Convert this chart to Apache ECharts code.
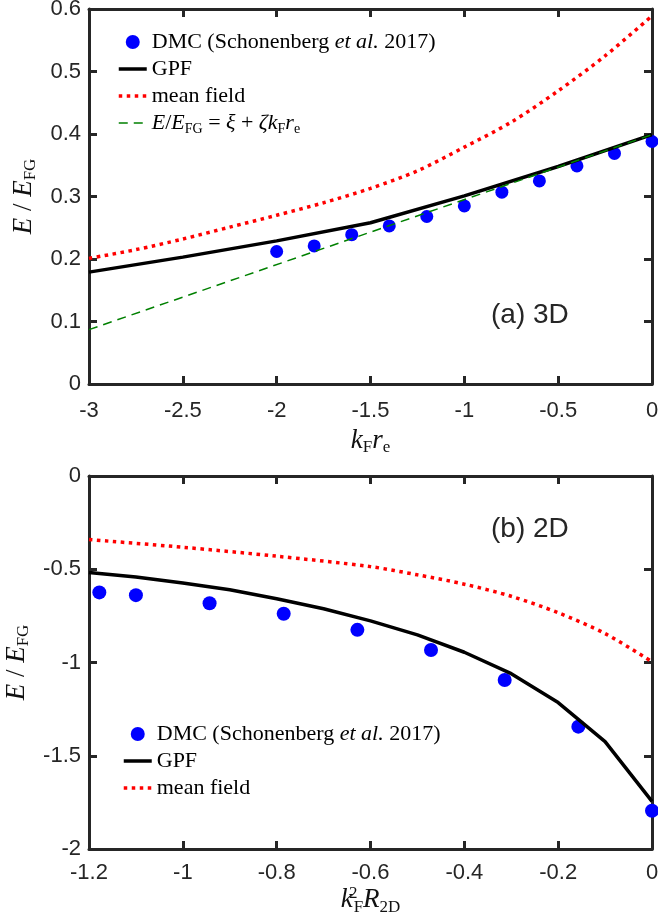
<!DOCTYPE html>
<html>
<head>
<meta charset="utf-8">
<script src="https://cdn.jsdelivr.net/npm/echarts@6/dist/echarts.min.js"></script>
<style>
  html, body { margin: 0; padding: 0; background: #fff; }
  #chart { width: 658px; height: 923px; }
</style>
</head>
<body>
<div id="chart"></div>
<script>
// panel (a) 3D
const dmcX3 = [-2, -1.8, -1.6, -1.4, -1.2, -1, -0.8, -0.6, -0.4, -0.2, 0];
const dmcY3 = [0.212, 0.221, 0.239, 0.253, 0.268, 0.285, 0.307, 0.325, 0.349, 0.369, 0.388];
const gpfX3 = [-3, -2.5, -2, -1.5, -1, -0.5, 0];
const gpfY3 = [0.179, 0.203, 0.229, 0.258, 0.301, 0.348, 0.399];
const mfX3 = [-3, -2.75, -2.5, -2.25, -2, -1.75, -1.5, -1.25, -1, -0.75, -0.5, -0.25, 0];
const mfY3 = [0.201, 0.215, 0.232, 0.251, 0.270, 0.290, 0.313, 0.341, 0.379, 0.419, 0.469, 0.525, 0.589];
const fitX3 = [-3, 0];
const fitY3 = [0.087, 0.399];

// panel (b) 2D
const dmcX2 = [-1.178, -1.1, -0.943, -0.785, -0.628, -0.471, -0.314, -0.157, 0];
const dmcY2 = [-0.624, -0.639, -0.682, -0.739, -0.825, -0.933, -1.094, -1.344, -1.795];
const gpfX2 = [-1.2, -1.1, -1.0, -0.9, -0.8, -0.7, -0.6, -0.5, -0.4, -0.3, -0.2, -0.1, 0];
const gpfY2 = [-0.517, -0.542, -0.574, -0.610, -0.658, -0.712, -0.777, -0.852, -0.945, -1.060, -1.215, -1.424, -1.745];
const mfX2 = [-1.2, -1.0, -0.8, -0.6, -0.5, -0.4, -0.3, -0.2, -0.1, 0];
const mfY2 = [-0.341, -0.382, -0.430, -0.486, -0.530, -0.580, -0.645, -0.733, -0.845, -0.996];

const pairs = (xs, ys) => xs.map((x, i) => [x, ys[i]]);

const axisColor = '#262626';
const serif = 'Liberation Serif';
const sans = 'Liberation Sans';

const nameRich = {
  i: { fontFamily: serif, fontStyle: 'italic', fontSize: 27, color: '#111' },
  r: { fontFamily: serif, fontSize: 27, color: '#111' },
  s: { fontFamily: serif, fontSize: 17, color: '#111', padding: [14, 0, 0, 0] },
  p: { fontFamily: serif, fontSize: 17, color: '#111', padding: [0, 0, 14, 0], width: 1 }
};

const legendRich = {
  r: { fontFamily: serif, fontSize: 22, color: '#000' },
  i: { fontFamily: serif, fontSize: 22, fontStyle: 'italic', color: '#000' },
  s: { fontFamily: serif, fontSize: 14, color: '#000', padding: [12, 0, 0, 0] }
};

const legendText = {
  'DMC': '{r|DMC (Schonenberg }{i|et al.}{r| 2017)}',
  'GPF': '{r|GPF}',
  'mean field': '{r|mean field}',
  'fit': '{i|E}{r|/}{i|E}{s|FG}{r| = }{i|ξ}{r| + }{i|ζk}{s|F}{i|r}{s|e}'
};

// hide the marker that line series put in the middle of their legend icon
const lineItem = n => ({ name: n, itemStyle: { opacity: 0 } });

function xAxes(grid, min, max, interval, name, nameGap, margin) {
  const base = {
    type: 'value', gridIndex: grid, min: min, max: max, interval: interval,
    axisLine: { onZero: false, lineStyle: { color: axisColor, width: 3 } },
    axisTick: { inside: true, length: 8, lineStyle: { color: axisColor, width: 3 } },
    splitLine: { show: false }
  };
  return [
    Object.assign({}, base, {
      position: 'bottom',
      name: name, nameLocation: 'middle', nameGap: nameGap,
      nameTextStyle: { rich: nameRich },
      axisLabel: { margin: margin, fontFamily: sans, fontSize: 22, color: axisColor, showMinLabel: true, showMaxLabel: true }
    }),
    Object.assign({}, base, { position: 'top', axisLabel: { show: false } })
  ];
}

function yAxes(grid, min, max, interval, name, nameGap) {
  const base = {
    type: 'value', gridIndex: grid, min: min, max: max, interval: interval,
    axisLine: { onZero: false, lineStyle: { color: axisColor, width: 3 } },
    axisTick: { inside: true, length: 8, lineStyle: { color: axisColor, width: 3 } },
    splitLine: { show: false }
  };
  return [
    Object.assign({}, base, {
      position: 'left',
      name: name, nameLocation: 'middle', nameGap: nameGap, nameRotate: 90,
      nameTextStyle: { rich: nameRich },
      axisLabel: { margin: 8, fontFamily: sans, fontSize: 22, color: axisColor, showMinLabel: true, showMaxLabel: true }
    }),
    Object.assign({}, base, { position: 'right', axisLabel: { show: false } })
  ];
}

const yName = '{i|E}{r| / }{i|E}{s|FG}';

const chart = echarts.init(document.getElementById('chart'));
chart.setOption({
  animation: false,
  backgroundColor: '#fff',
  title: [
    { text: '(a) 3D', left: 491, top: 301, padding: 0,
      textStyle: { fontFamily: sans, fontSize: 28, fontWeight: 'normal', color: axisColor } },
    { text: '(b) 2D', left: 491, top: 515, padding: 0,
      textStyle: { fontFamily: sans, fontSize: 28, fontWeight: 'normal', color: axisColor } }
  ],
  grid: [
    { left: 89, right: 6, top: 9, height: 375, outerBoundsMode: 'none' },
    { left: 89, right: 6, top: 476, height: 373, outerBoundsMode: 'none' }
  ],
  xAxis: [].concat(
    xAxes(0, -3, 0, 0.5, '{i|k}{s|F}{i|r}{s|e}', 41, 16),
    xAxes(1, -1.2, 0, 0.2, '{i|k}{p|2}{s|F}{i|R}{s|2D}', 29, 13)
  ),
  yAxis: [].concat(
    yAxes(0, 0, 0.6, 0.1, yName, 50),
    yAxes(1, -2, 0, 0.5, yName, 57)
  ),
  legend: [
    {
      orient: 'vertical', left: 117, top: 31, itemWidth: 28, itemHeight: 14, itemGap: 5,
      padding: 0, selectedMode: false,
      data: ['DMC', lineItem('GPF'), lineItem('mean field'), lineItem('fit')],
      formatter: n => legendText[n],
      textStyle: { fontFamily: serif, fontSize: 22, color: '#000', rich: legendRich },
      lineStyle: { width: 'inherit' }
    },
    {
      orient: 'vertical', left: 122, top: 723, itemWidth: 28, itemHeight: 14, itemGap: 5,
      padding: 0, selectedMode: false,
      data: ['DMC', lineItem('GPF'), lineItem('mean field')],
      formatter: n => legendText[n],
      textStyle: { fontFamily: serif, fontSize: 22, color: '#000', rich: legendRich },
      lineStyle: { width: 'inherit' }
    }
  ],
  series: [
    { name: 'DMC', type: 'scatter', xAxisIndex: 0, yAxisIndex: 0, data: pairs(dmcX3, dmcY3),
      symbol: 'circle', symbolSize: 13, itemStyle: { color: '#0000ff', opacity: 1 } },
    { name: 'GPF', type: 'line', xAxisIndex: 0, yAxisIndex: 0, data: pairs(gpfX3, gpfY3),
      symbol: 'none', lineStyle: { color: '#000', width: 3.5 }, itemStyle: { color: '#000' } },
    { name: 'mean field', type: 'line', xAxisIndex: 0, yAxisIndex: 0, data: pairs(mfX3, mfY3),
      symbol: 'none', smooth: 0.3, lineStyle: { color: '#ff0000', width: 3.5, type: [3.5, 4.5] }, itemStyle: { color: '#ff0000' } },
    { name: 'fit', type: 'line', xAxisIndex: 0, yAxisIndex: 0, data: pairs(fitX3, fitY3),
      symbol: 'none', lineStyle: { color: '#008000', width: 1.5, type: [9, 6] }, itemStyle: { color: '#008000' } },

    { name: 'DMC', type: 'scatter', xAxisIndex: 2, yAxisIndex: 2, data: pairs(dmcX2, dmcY2),
      symbol: 'circle', symbolSize: 14, itemStyle: { color: '#0000ff', opacity: 1 } },
    { name: 'GPF', type: 'line', xAxisIndex: 2, yAxisIndex: 2, data: pairs(gpfX2, gpfY2),
      symbol: 'none', lineStyle: { color: '#000', width: 3.5 }, itemStyle: { color: '#000' } },
    { name: 'mean field', type: 'line', xAxisIndex: 2, yAxisIndex: 2, data: pairs(mfX2, mfY2),
      symbol: 'none', smooth: 0.3, lineStyle: { color: '#ff0000', width: 3.5, type: [3.5, 4.5] }, itemStyle: { color: '#ff0000' } }
  ]
});
</script>
</body>
</html>
